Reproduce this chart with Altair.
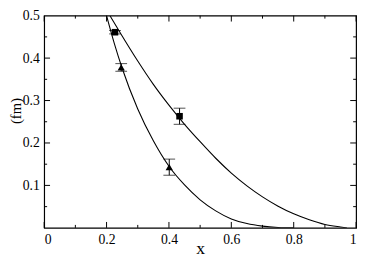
import altair as alt
import pandas as pd

# curve samples
upper_x = [0.211, 0.25, 0.30, 0.35, 0.40, 0.45, 0.50, 0.55, 0.60, 0.65, 0.70, 0.75, 0.80, 0.85, 0.90, 0.95, 0.97]
upper_y = [0.50, 0.452, 0.393, 0.338, 0.289, 0.244, 0.203, 0.164, 0.129, 0.099, 0.073, 0.051, 0.033, 0.019, 0.008, 0.002, 0.0]
lower_x = [0.200, 0.225, 0.25, 0.30, 0.35, 0.40, 0.45, 0.50, 0.55, 0.60, 0.65, 0.70, 0.75, 0.80]
lower_y = [0.50, 0.434, 0.376, 0.280, 0.205, 0.145, 0.101, 0.066, 0.040, 0.021, 0.010, 0.004, 0.001, 0.0]

# data points with errors
sq_x = [0.227, 0.434]
sq_y = [0.461, 0.263]
sq_e = [0.004, 0.019]
tri_x = [0.247, 0.401]
tri_y = [0.378, 0.143]
tri_e = [0.009, 0.019]

x_major = [0, 0.2, 0.4, 0.6, 0.8, 1.0]
x_minor = [0.1, 0.3, 0.5, 0.7, 0.9]
y_major = [0.1, 0.2, 0.3, 0.4, 0.5]
y_minor = [0.05, 0.15, 0.25, 0.35, 0.45]

W, H = 319, 217
FONT = "Liberation Serif, Times New Roman, serif"

curves = pd.DataFrame({
    "x": upper_x + lower_x,
    "y": upper_y + lower_y,
    "c": ["upper"] * len(upper_x) + ["lower"] * len(lower_x),
})
sq = pd.DataFrame({"x": sq_x, "y": sq_y, "lo": [a - b for a, b in zip(sq_y, sq_e)], "hi": [a + b for a, b in zip(sq_y, sq_e)]})
tri = pd.DataFrame({"x": tri_x, "y": tri_y, "lo": [a - b for a, b in zip(tri_y, tri_e)], "hi": [a + b for a, b in zip(tri_y, tri_e)]})
pts = pd.concat([sq, tri], ignore_index=True)

xs = alt.Scale(domain=[0, 1], nice=False)
ys = alt.Scale(domain=[0, 0.5], nice=False)

xaxis = alt.Axis(values=x_major, ticks=False, domain=False, grid=False, labelPadding=5,
                 labelFont=FONT, labelFontSize=14, labelColor="black",
                 title="x", titleFont=FONT, titleFontSize=18, titleFontWeight="normal",
                 titleColor="black", titleBaseline="alphabetic", titleY=26,
                 labelExpr="datum.value == 0 ? '0' : datum.value == 1 ? '1' : format(datum.value, '.1f')")
yaxis = alt.Axis(values=y_major, ticks=False, domain=False, grid=False, labelPadding=5,
                 labelFont=FONT, labelFontSize=14, labelColor="black", format=".1f",
                 title="(fm)", titleFont=FONT, titleFontSize=15, titleFontWeight="normal",
                 titleColor="black", titleX=-21, titleY=97, titleBaseline="bottom")

lines = alt.Chart(curves).mark_line(color="black", strokeWidth=1.1, interpolate="monotone", clip=True).encode(
    x=alt.X("x:Q", scale=xs, axis=xaxis),
    y=alt.Y("y:Q", scale=ys, axis=yaxis),
    detail="c:N",
)

bars = alt.Chart(pts).mark_rule(color="black", strokeWidth=1).encode(
    x=alt.X("x:Q", scale=xs), y=alt.Y("lo:Q", scale=ys), y2="hi:Q")
cap_lo = alt.Chart(pts).mark_tick(color="black", orient="horizontal", size=12, thickness=1).encode(
    x=alt.X("x:Q", scale=xs), y=alt.Y("lo:Q", scale=ys))
cap_hi = alt.Chart(pts).mark_tick(color="black", orient="horizontal", size=12, thickness=1).encode(
    x=alt.X("x:Q", scale=xs), y=alt.Y("hi:Q", scale=ys))
squares = alt.Chart(sq).mark_point(shape="square", filled=True, color="black", size=45, opacity=1).encode(
    x=alt.X("x:Q", scale=xs), y=alt.Y("y:Q", scale=ys))
triangles = alt.Chart(tri).mark_point(shape="triangle-up", filled=True, color="black", size=55, opacity=1).encode(
    x=alt.X("x:Q", scale=xs), y=alt.Y("y:Q", scale=ys))


def xticks(vals, l):
    d = pd.DataFrame({"v": vals})
    b = alt.Chart(d).mark_rule(color="black", strokeWidth=1).encode(
        x=alt.X("v:Q", scale=xs), y=alt.value(H), y2=alt.value(H - l))
    t = alt.Chart(d).mark_rule(color="black", strokeWidth=1).encode(
        x=alt.X("v:Q", scale=xs), y=alt.value(0), y2=alt.value(l))
    return [b, t]


def yticks(vals, l):
    d = pd.DataFrame({"v": vals})
    lft = alt.Chart(d).mark_rule(color="black", strokeWidth=1).encode(
        y=alt.Y("v:Q", scale=ys), x=alt.value(0), x2=alt.value(l))
    rgt = alt.Chart(d).mark_rule(color="black", strokeWidth=1).encode(
        y=alt.Y("v:Q", scale=ys), x=alt.value(W), x2=alt.value(W - l))
    return [lft, rgt]


tick_layers = xticks(x_major, 6) + xticks(x_minor, 3) + yticks(y_major[:-1], 6) + yticks(y_minor, 3)

chart = alt.layer(lines, bars, cap_lo, cap_hi, squares, triangles, *tick_layers).properties(
    width=W, height=H,
    autosize=alt.AutoSizeParams(type="none"),
    padding={"left": 37, "top": 5, "right": 4, "bottom": 28},
    background="white",
).configure_view(stroke="black", strokeWidth=1.2)

chart.save("out.html", embed_options={"renderer": "svg", "actions": False})
